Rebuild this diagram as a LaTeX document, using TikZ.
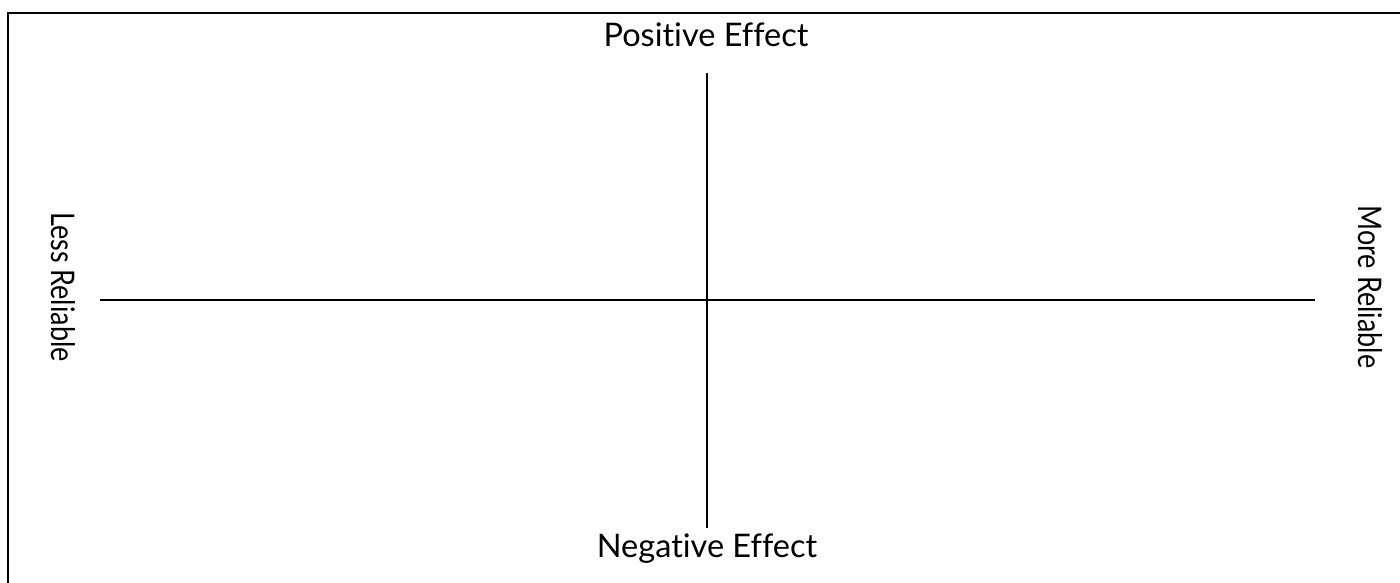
\documentclass[tikz,border=0pt]{standalone}
\usepackage{fontspec}
\setmainfont{Lato}[Ligatures={NoCommon}]
\begin{document}
\begin{tikzpicture}[x=1pt,y=-1pt,
  axis/.style={line width=1.8pt},
  lbl/.style={font=\fontsize{32.5}{36}\selectfont, inner sep=0pt}]
\useasboundingbox (0,0) rectangle (1400,582);
\draw[line width=2.2pt] (8,600) -- (8,13) -- (1420,13);
\coordinate (top) at (707,73);
\coordinate (bot) at (707,528);
\coordinate (lft) at (100,300);
\coordinate (rgt) at (1315,300);
\draw[axis] (top) -- (bot);
\draw[axis] (lft) -- (rgt);
\node[lbl] (pos) at (706,35) {Positive Effect};
\node[lbl] (neg) at (707,549) {Negative Effect};
\node[lbl, rotate=-90] (less) at (63,287) {\scalebox{0.83}[1]{Less Reliable}};
\node[lbl, rotate=-90] (more) at (1370,287) {\scalebox{0.83}[1]{More Reliable}};
\end{tikzpicture}
\end{document}
